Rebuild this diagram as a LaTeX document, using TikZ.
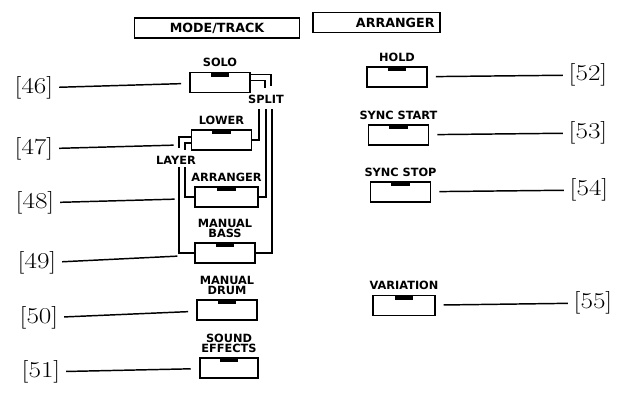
\documentclass[tikz,border=0pt]{standalone}
\usepackage{fontspec}
\newfontfamily\panelfont{DejaVu Sans}
\newcommand{\refno}[1]{\scalebox{1.2}[1]{[#1]}}

\tikzset{every picture/.style={line width=0.75pt}}
\tikzset{
  button/.style={draw, line width=1.4pt, minimum width=45pt, minimum height=15pt, inner sep=0pt,
    label={[lamp]north:}},
  lamp/.style={fill, anchor=north, minimum width=14pt, minimum height=3.5pt, inner sep=0pt},
  caption/.style={font=\panelfont\bfseries\fontsize{8.5}{7.3}\selectfont, align=center, inner xsep=0pt, inner ysep=3pt},
  header/.style={draw, line width=1.2pt, minimum height=15pt, inner ysep=0pt, font=\panelfont\bfseries\fontsize{9.5}{10}\selectfont},
  partno/.style={font=\fontsize{17}{17}\selectfont, inner sep=1pt},
  lead/.style={line width=1.1pt, shorten <=3pt, shorten >=6pt},
  bracket/.style={line width=1pt},
  tag/.style={font=\panelfont\bfseries\fontsize{8.5}{9}\selectfont, inner sep=0pt}
}

\begin{document}
\begin{tikzpicture}[x=0.75pt,y=0.75pt,yscale=-1,xscale=1]
    \useasboundingbox (0,0) rectangle (617,393);

    % Header boxes
    \node[header, minimum width=124pt] (modetrack) at (217,28) {MODE/TRACK};
    \node[header, inner xsep=4pt, text width=87pt, align=right] (arrhdr) at (376.5,22.5) {ARRANGER};

    % Mode/track buttons
    \node[button, label={[caption]above:SOLO}] (solo) at (220,82.5) {};
    \node[button, label={[caption]above:LOWER}] (lower) at (221.5,140) {};
    \node[button, minimum width=47pt, label={[caption]above:ARRANGER}] (arrbtn) at (226.5,197) {};
    \node[button, label={[caption]above:{MANUAL\\BASS}}] (bass) at (225,253) {};
    \node[button, label={[caption]above:{MANUAL\\DRUM}}] (drum) at (227,310) {};
    \node[button, minimum width=44pt, label={[caption]above:{SOUND\\EFFECTS}}] (sfx) at (229,368) {};

    % Arranger buttons
    \node[button, label={[caption]above:HOLD}] (hold) at (397,77) {};
    \node[button, label={[caption]above:SYNC START}] (syncstart) at (398.5,135) {};
    \node[button, label={[caption]above:SYNC STOP}] (syncstop) at (400.5,192) {};
    \node[button, minimum width=46pt, label={[caption]above:VARIATION}] (variation) at (404,305.5) {};

    % Split / layer tags
    \node[tag] (split) at (266,99) {SPLIT};
    \node[tag] (layer) at (176,160) {LAYER};

    % Split brackets
    \draw[bracket] (solo.east) ++(0,-8) -| (271,86);
    \draw[bracket] (solo.east) ++(0,-2) -| (265,88);
    \coordinate (sp1) at (259,109);
    \coordinate (sp2) at (266,109);
    \coordinate (sp3) at (272,109);
    \draw[bracket] (sp1) |- (lower.east);
    \draw[bracket] (sp2) |- (arrbtn.east);
    \draw[bracket] (sp3) |- (bass.east);

    % Layer brackets
    \draw[bracket] (lower.west) ++(0,-3) -| (179,148);
    \draw[bracket] (lower.west) ++(0,3) -| (185,150);
    \coordinate (ly1) at (179,167);
    \coordinate (ly2) at (185,167);
    \draw[bracket] (ly2) |- (arrbtn.west);
    \draw[bracket] (ly1) |- (bass.west);

    % Reference numbers
    \node[partno] (n46) at (34,88) {\refno{46}};
    \node[partno] (n47) at (34,149) {\refno{47}};
    \node[partno] (n48) at (35,203) {\refno{48}};
    \node[partno] (n49) at (37,263) {\refno{49}};
    \node[partno] (n50) at (39,318) {\refno{50}};
    \node[partno] (n51) at (41,372) {\refno{51}};
    \node[partno] (n52) at (588,75) {\refno{52}};
    \node[partno] (n53) at (588,133) {\refno{53}};
    \node[partno] (n54) at (589,190) {\refno{54}};
    \node[partno] (n55) at (593,303) {\refno{55}};

    % Leader lines
    \coordinate (l47) at (179,145);
    \coordinate (l48) at (180,199);
    \coordinate (l49) at (180,256);
    \draw[lead] (n46) -- (solo);
    \draw[lead, shorten >=4pt] (n47) -- (l47);
    \draw[lead, shorten >=4pt] (n48) -- (l48);
    \draw[lead, shorten >=2pt] (n49) -- (l49);
    \draw[lead] (n50) -- (drum);
    \draw[lead] (n51) -- (sfx);
    \draw[lead] (n52) -- (hold);
    \draw[lead] (n53) -- (syncstart);
    \draw[lead] (n54) -- (syncstop);
    \draw[lead] (n55) -- (variation);
\end{tikzpicture}
\end{document}
